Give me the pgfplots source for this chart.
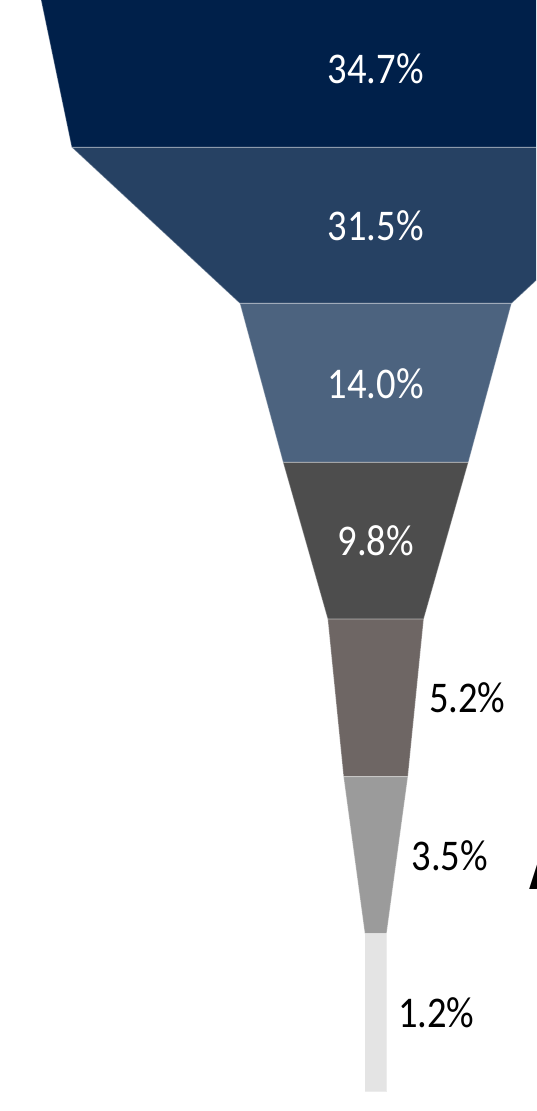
\documentclass[border=0pt]{standalone}
\usepackage{pgfplots}
\pgfplotsset{compat=1.18}
\usepackage{fontspec}
\setmainfont{Carlito}[FakeStretch=0.88]

\definecolor{s1}{HTML}{00204A}
\definecolor{s2}{HTML}{264163}
\definecolor{s3}{HTML}{4C637F}
\definecolor{s4}{HTML}{4D4D4D}
\definecolor{s5}{HTML}{6E6664}
\definecolor{s6}{HTML}{9B9B9B}
\definecolor{s7}{HTML}{E4E4E4}

\tikzset{
    seg/.style={draw=white, draw opacity=0.3, line width=0.5pt},
    lbl/.style={inner sep=0pt, font=\fontsize{21.9}{26}\selectfont},
}

\begin{document}
\begin{tikzpicture}
\begin{axis}[
    scale only axis,
    width=268pt,
    height=555.5pt,
    xmin=-375.7, xmax=160.3,
    ymin=0, ymax=1111,
    y dir=reverse,
    hide axis,
    clip=true,
]
% funnel segments, half widths at each boundary
\addplot[seg, fill=s1] coordinates {(-336.7,-9.7) (336.7,-9.7) (304,147.3) (-304,147.3)} -- cycle;
\addplot[seg, fill=s2] coordinates {(-304,147.3) (304,147.3) (135.8,303.5) (-135.8,303.5)} -- cycle;
\addplot[seg, fill=s3] coordinates {(-135.8,303.5) (135.8,303.5) (92.6,462.5) (-92.6,462.5)} -- cycle;
\addplot[seg, fill=s4] coordinates {(-92.6,462.5) (92.6,462.5) (48,619) (-48,619)} -- cycle;
\addplot[seg, fill=s5] coordinates {(-48,619) (48,619) (32.2,776.5) (-32.2,776.5)} -- cycle;
\addplot[seg, fill=s6] coordinates {(-32.2,776.5) (32.2,776.5) (10.9,933.5) (-10.9,933.5)} -- cycle;
\addplot[seg, fill=s7] coordinates {(-10.9,933.5) (10.9,933.5) (10.9,1091.5) (-10.9,1091.5)} -- cycle;

\node[lbl, white] at (axis cs:0,69) {34.7\%};
\node[lbl, white] at (axis cs:0,225.5) {31.5\%};
\node[lbl, white] at (axis cs:0,383.5) {14.0\%};
\node[lbl, white] at (axis cs:0,541) {9.8\%};
\node[lbl, anchor=west] at (axis cs:53,698) {5.2\%};
\node[lbl, anchor=west] at (axis cs:35.5,856) {3.5\%};
\node[lbl, anchor=west] at (axis cs:22,1013) {1.2\%};
\node[anchor=base west, inner sep=0pt, font=\fontsize{40}{40}\selectfont\bfseries] at (axis cs:153,889) {A};
\end{axis}
\pgfresetboundingbox
\path[use as bounding box] (current axis.south west) rectangle (current axis.north east);
\end{tikzpicture}
\end{document}
